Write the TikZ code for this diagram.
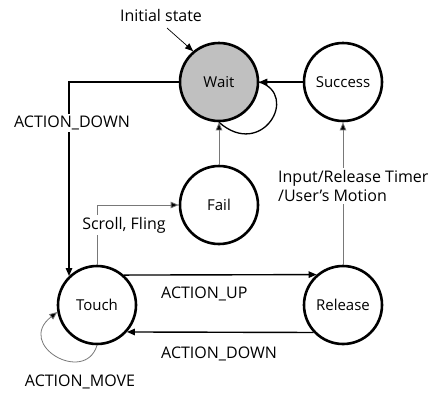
\documentclass[tikz,border=0pt]{standalone}
\usepackage{fontspec}
\setmainfont{Open Sans}
\usetikzlibrary{arrows.meta}
\definecolor{waitfill}{RGB}{192,192,192}
\definecolor{thinline}{RGB}{120,120,120}
\tikzset{
  state/.style={circle, draw=black, line width=2.6pt, minimum size=78pt, inner sep=0pt, fill=white, font=\fontsize{15}{17}\selectfont},
  tip/.style={-{Triangle[length=8pt,width=6.5pt]}},
  blacktip/.style={-{Triangle[length=8pt,width=6.5pt,fill=black]}},
  strong/.style={tip, line width=1.4pt, draw=black},
  weak/.style={blacktip, line width=0.8pt, draw=thinline},
  lbl/.style={font=\fontsize{16}{19}\selectfont, inner sep=1pt},
  lblbg/.style={lbl, fill=white, inner sep=2pt}
}
\begin{document}
\begin{tikzpicture}[x=1pt, y=-1pt]
  \useasboundingbox (0,0) rectangle (433,392);

  % states
  \node[state, fill=waitfill] (wait) at (219,82) {Wait};
  \node[state] (succ)  at (343,82)  {Success};
  \node[state] (fail)  at (219,205) {Fail};
  \node[state] (touch) at (97,305)  {Touch};
  \node[state] (rel)   at (343,305) {Release};

  % initial marker
  \node[lbl] (init) at (161,15) {Initial state};
  \draw[tip, line width=0.7pt] (167,28) -- (wait.130);

  % Wait self-loop
  \draw[line width=1.3pt] (wait.east) .. controls (300,95) and (262,160) .. (wait.south);

  % transitions
  \draw[strong] (succ) -- (wait);
  \draw[weak] (fail) -- (wait);
  \draw[strong] (wait.west) -| (touch.134);
  \node[lblbg] (down1) at (72,123) {ACTION\_DOWN};

  \draw[weak] (touch.north) |- (fail.west);
  \node[lblbg] (scroll) at (124,225) {Scroll, Fling};

  \draw[weak] (rel.north) -- (succ.south);
  \node[lblbg, align=left, anchor=north west] (timer) at (276,168) {Input/Release Timer\\/User’s Motion};

  \draw[strong] (touch.48.6) -- (rel.131.4);
  \node[lbl, anchor=west] (up) at (160,294) {ACTION\_UP};
  \draw[strong] (rel.-137.5) -- (touch.-42.5);
  \node[lbl, anchor=west] (down2) at (160,354) {ACTION\_DOWN};

  \draw[weak] (touch.-90) .. controls (85,385) and (15,345) .. (touch.190);
  \node[lbl] (move) at (80,382) {ACTION\_MOVE};
\end{tikzpicture}
\end{document}
